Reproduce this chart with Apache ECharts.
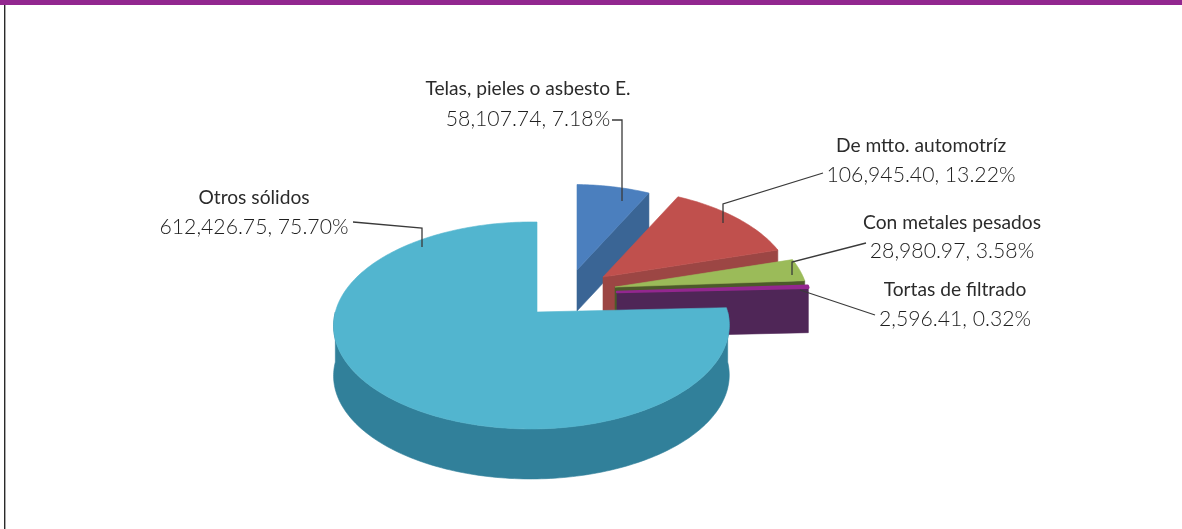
<!DOCTYPE html>
<html>
<head>
<meta charset="utf-8">
<style>html,body{margin:0;padding:0;background:#fff}#chart{width:1182px;height:529px}</style>
<script src="https://cdn.jsdelivr.net/npm/echarts@6/dist/echarts.min.js"></script>
</head>
<body>
<div id="chart"></div>
<script>
// Residuos sólidos por tipo: toneladas y porcentaje del total
const categories = ['Telas, pieles o asbesto E.', 'De mtto. automotríz', 'Con metales pesados', 'Tortas de filtrado', 'Otros sólidos'];
const amounts = [58107.74, 106945.40, 28980.97, 2596.41, 612426.75];
const percents = [7.18, 13.22, 3.58, 0.32, 75.70];

// Tilted-disc projection shared by all the wedges
const RADIUS_X = 196, RADIUS_Y = 101.7, TILT_BACK = 0.13, TILT_SIDE = 0.028;

// Exploded position and look of each wedge, in drawing order
const apexes = [[577, 270], [603, 277], [615, 287], [617, 292], [537, 312]];
const scales = [0.95, 0.99, 1.005, 1.01, 1];
const depths = [41, 41, 41, 45, 50];
const topColors = ['#4b7fbe', '#c0504d', '#9bbb59', '#93278f', '#52b5cf'];
const sideColors = ['#3a6595', '#9c4644', '#4c5a2a', '#4f2657', '#31809a'];
const edgeWidths = [0.6, 0.6, 0.6, 2.5, 0.6];

// Label anchors (centre x, name y, amount y) and leader-line routes
const labelSpots = [[528, 89, 119], [921, 146, 175], [952, 223, 251], [955, 290, 319], [254, 198, 227]];
const leaders = [
  [[612, 120], [622, 120], [622, 201]],
  [[823, 173], [723, 204], [723, 223]],
  [[866, 243], [792, 262], [792, 275]],
  [[875, 315], [800, 290]],
  [[353, 222], [422, 228], [422, 247]]
];
const FONT = 'Lato, "Open Sans", sans-serif';

const total = amounts.reduce((a, b) => a + b, 0);
const starts = [];
amounts.reduce((sum, v, i) => { starts[i] = sum / total * 2 * Math.PI; return sum + v; }, 0);

function rimPoint(i, theta, drop) {
  const u = Math.sin(theta), v = Math.cos(theta);
  const s = 1 / (1 + TILT_BACK * v + TILT_SIDE * u);
  return [
    apexes[i][0] + scales[i] * RADIUS_X * u * s,
    apexes[i][1] - scales[i] * RADIUS_Y * v * s + (drop || 0)
  ];
}

function arc(i, from, to, drop) {
  const n = Math.max(2, Math.ceil(Math.abs(to - from) / 0.02));
  const pts = [];
  for (let k = 0; k <= n; k++) pts.push(rimPoint(i, from + (to - from) * k / n, drop));
  return pts;
}

function poly(points, color, width) {
  return {
    type: 'polygon',
    shape: { points },
    style: { fill: color, stroke: color, lineWidth: width || 0.6, lineJoin: 'round' }
  };
}

function renderWedge(params, api) {
  const i = params.dataIndex;
  const sweep = api.value(0) / total * 2 * Math.PI;
  const a0 = starts[i], a1 = a0 + sweep;
  const apex = apexes[i], d = depths[i];
  const children = [];

  // Outer wall, only where the rim faces the viewer
  const w0 = Math.max(a0, Math.PI / 2), w1 = Math.min(a1, Math.PI * 1.5);
  if (w1 > w0) {
    children.push(poly(arc(i, w0, w1, 0).concat(arc(i, w1, w0, d)), sideColors[i]));
  }
  // Cut face at the closing edge of the wedge
  if (a1 < Math.PI * 1.5) {
    const e = rimPoint(i, a1, 0);
    children.push(poly([apex, e, [e[0], e[1] + d], [apex[0], apex[1] + d]], sideColors[i]));
  }
  // Top surface
  children.push(poly([apex].concat(arc(i, a0, a1, 0)), topColors[i], edgeWidths[i]));
  return { type: 'group', children };
}

function renderCallout(params, api) {
  const i = params.dataIndex;
  const amount = api.value(0).toLocaleString('en-US', { minimumFractionDigits: 2, maximumFractionDigits: 2 });
  const spot = labelSpots[i];
  return {
    type: 'group',
    children: [
      {
        type: 'polyline',
        shape: { points: leaders[i] },
        style: { fill: 'none', stroke: '#3a3a3a', lineWidth: 1.3 }
      },
      {
        type: 'text',
        style: {
          x: spot[0], y: spot[1], text: categories[i], fill: '#2b2b2b',
          font: '400 19.2px ' + FONT, textAlign: 'center', textVerticalAlign: 'middle'
        }
      },
      {
        type: 'text',
        style: {
          x: spot[0], y: spot[2], text: amount + ', ' + percents[i].toFixed(2) + '%', fill: '#1f1f1f',
          font: '300 21.2px ' + FONT, textAlign: 'center', textVerticalAlign: 'middle'
        }
      }
    ]
  };
}

const rows = amounts.map((v, i) => ({ name: categories[i], value: [v, percents[i]] }));

const chart = echarts.init(document.getElementById('chart'), null, { renderer: 'canvas' });
chart.setOption({
  animation: false,
  backgroundColor: '#ffffff',
  graphic: [
    { type: 'rect', shape: { x: 0, y: 0, width: 1182, height: 5 }, style: { fill: '#92278f' } },
    { type: 'rect', shape: { x: 4, y: 5, width: 1.4, height: 524 }, style: { fill: '#2a2a2a' } }
  ],
  series: [
    { type: 'custom', coordinateSystem: 'none', renderItem: renderWedge, data: rows, silent: true },
    { type: 'custom', coordinateSystem: 'none', renderItem: renderCallout, data: rows, silent: true, z: 3 }
  ]
});
</script>
</body>
</html>
